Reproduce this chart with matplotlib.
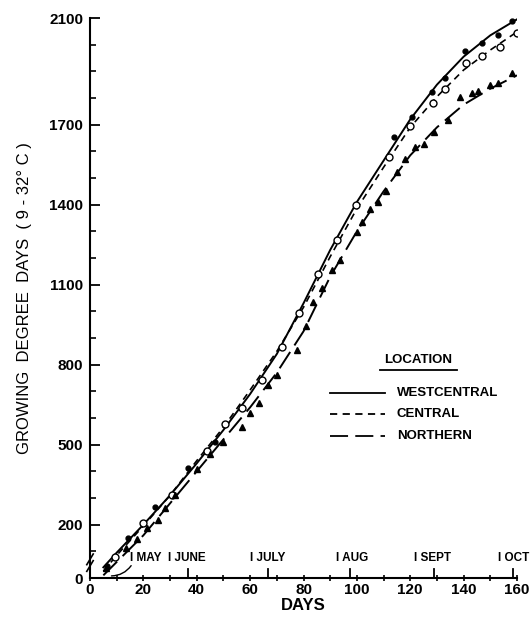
import matplotlib.pyplot as plt

plt.rcParams['font.family'] = ['Liberation Sans', 'DejaVu Sans']

# fitted curves (days, growing degree days)
curve_days = [5, 10, 20, 30, 40, 50, 60, 70, 80, 90, 100, 110, 120, 130, 140, 150, 160]
west_curve = [40, 95, 200, 310, 430, 555, 690, 840, 1030, 1230, 1410, 1565, 1720, 1850, 1955, 2035, 2095]
central_curve = [25, 85, 195, 310, 440, 565, 705, 850, 1015, 1205, 1385, 1540, 1690, 1805, 1905, 1980, 2048]
north_curve = [10, 60, 160, 280, 400, 520, 640, 770, 925, 1130, 1300, 1450, 1585, 1690, 1775, 1835, 1885]

# observed points
west_days = [6.2, 14.3, 24.3, 36.7, 47, 114, 120.6, 128, 133, 140.5, 147, 153, 158]
west_vals = [45, 150, 266, 412, 510, 1654, 1729, 1823, 1875, 1977, 2007, 2037, 2089]

central_days = [9.4, 20, 30.7, 43.7, 50.6, 57, 64.4, 72, 78.4, 85.5, 92.5, 99.6,
                112, 120, 128.5, 133, 141, 147, 153.5, 160]
central_vals = [79, 206, 311, 476, 578, 638, 743, 866, 994, 1140, 1268, 1399,
                1579, 1695, 1782, 1834, 1932, 1958, 1992, 2044]

north_days = [6, 13.5, 17.6, 21.4, 25.5, 28, 32, 40, 45, 50, 57, 60, 63.4, 66.7, 70,
              77.5, 81, 83.6, 87, 90.6, 93.6, 100, 102, 105, 108, 111, 115, 118,
              121.7, 125, 129, 134, 138.6, 143, 145.5, 150, 153, 158]
north_vals = [38, 113, 146, 187, 218, 262, 311, 410, 465, 510, 566, 619, 656, 724, 761,
              855, 945, 1035, 1088, 1155, 1193, 1298, 1335, 1384, 1411, 1452, 1523, 1572,
              1617, 1628, 1673, 1718, 1804, 1819, 1827, 1849, 1857, 1894]

month_names = ['I MAY', 'I JUNE', 'I JULY', 'I AUG', 'I SEPT', 'I OCT']
month_label_days = [15, 29.2, 60, 92, 121.3, 152.7]
month_tick_days = [36.7, 66.7, 97.6, 129, 158.5]

y_ticks = [0, 200, 500, 800, 1100, 1400, 1700, 2100]

fig = plt.figure(figsize=(5.32, 6.17), dpi=100)
ax = fig.add_axes([90 / 532, 1 - 578 / 617, 427 / 532, 560 / 617])

ax.plot(curve_days, west_curve, color='black', lw=1.4, ls='-')
ax.plot(curve_days, central_curve, color='black', lw=1.2, ls=(0, (4, 3)))
ax.plot(curve_days, north_curve, color='black', lw=1.4, ls=(0, (10, 4)))

ax.plot(west_days, west_vals, 'o', color='black', ms=3.5)
ax.plot(central_days, central_vals, 'o', mfc='white', mec='black', mew=1.0, ms=5)
ax.plot(north_days, north_vals, '^', color='black', ms=5)

ax.set_xlim(0, 160)
ax.set_ylim(0, 2100)
ax.spines['top'].set_visible(False)
ax.spines['right'].set_visible(False)
ax.spines['left'].set_linewidth(1.5)
ax.spines['bottom'].set_linewidth(1.5)

ax.set_xticks(range(0, 161, 20))
ax.set_xticks(range(10, 161, 20), minor=True)
ax.tick_params(axis='x', which='both', direction='inout', length=5, width=1.2, pad=1)
ax.set_yticks(y_ticks)
ax.set_yticks([y for y in range(100, 2100, 100) if y not in y_ticks], minor=True)
ax.tick_params(axis='y', which='major', direction='in', length=7, width=1.3, pad=5)
ax.tick_params(axis='y', which='minor', direction='in', length=4, width=1.2)
ax.tick_params(labelsize=11)
for lab in ax.get_xticklabels() + ax.get_yticklabels():
    lab.set_fontweight('bold')

ax.set_xlabel('DAYS', fontsize=12, fontweight='bold', labelpad=1)
ax.set_ylabel('GROWING  DEGREE  DAYS  ( 9 - 32° C )', fontsize=12, labelpad=12)

# month marks
for d in month_tick_days:
    ax.plot([d, d], [0, 32], color='black', lw=1.3, clip_on=False)
for name, d in zip(month_names, month_label_days):
    ax.text(d, 75, name, fontsize=8.5, fontweight='bold', va='center', ha='left')
ax.annotate('', xy=(7, 8), xytext=(16, 55),
            arrowprops=dict(arrowstyle='-', color='black', lw=1.0,
                            connectionstyle='arc3,rad=-0.3'))

# axis break marks
for y0 in (45, 70):
    ax.plot([-1.2, 1.2], [y0 - 20, y0 + 20], color='black', lw=1.2, clip_on=False)

# legend
ax.text(123, 818, 'LOCATION', fontsize=9.5, fontweight='bold', ha='center', va='center')
ax.plot([108.6, 137.5], [780, 780], color='black', lw=1.3)
legend_rows = [('WESTCENTRAL', '-'), ('CENTRAL', (0, (4, 3))), ('NORTHERN', (0, (10, 4)))]
for i, (name, ls) in enumerate(legend_rows):
    yv = 694 - i * 80
    ax.plot([90, 110.5], [yv, yv], color='black', lw=1.3, ls=ls)
    ax.text(115, yv, name, fontsize=9.5, fontweight='bold', va='center')

fig.savefig('out.png', dpi=100)
